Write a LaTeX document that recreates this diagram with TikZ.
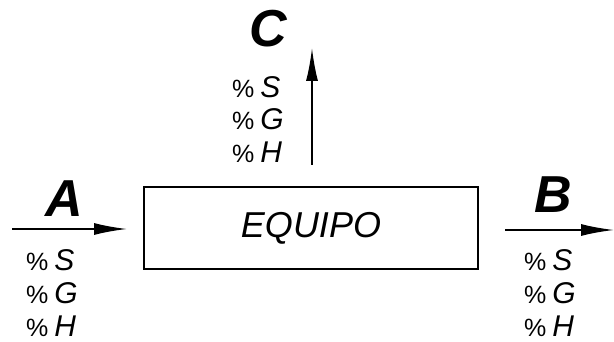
\documentclass[tikz,border=0pt]{standalone}
\usepackage{fontspec}
\setmainfont{Liberation Sans}
\usetikzlibrary{arrows.meta}
\newcommand{\pctrow}[1]{{\fontsize{25}{25}\selectfont\%}\hspace{6pt}{\fontsize{30}{30}\selectfont\itshape #1}}
\tikzset{
  flow/.style={line width=1.8pt, -{Latex[length=33pt,width=12pt]}},
  unit/.style={draw, line width=1.6pt, minimum width=334pt, minimum height=82pt, inner sep=0pt,
    font=\fontsize{36}{36}\selectfont\itshape},
  streamname/.style={anchor=base, inner sep=0pt, font=\fontsize{52}{52}\selectfont\bfseries\itshape},
  comp/.style={anchor=base west, inner sep=0pt},
}
\begin{document}
\begin{tikzpicture}[x=1pt,y=-1pt]
\useasboundingbox (0,0) rectangle (614,342);
\node[unit] (equipo) at (311,228) {EQUIPO};
% stream A
\coordinate (a0) at (12,229);
\coordinate (a1) at (127,229);
\draw[flow] (a0) -- (a1);
\node[streamname] (A) at (64,217) {A};
\node[comp] (aS) at (26,270) {\pctrow{S}};
\node[comp] (aG) at (26,303) {\pctrow{G}};
\node[comp] (aH) at (26,336) {\pctrow{H}};
% stream B
\coordinate (b0) at (505,230);
\coordinate (b1) at (614,230);
\draw[flow] (b0) -- (b1);
\node[streamname] (B) at (553,213) {B};
\node[comp] (bS) at (524,270) {\pctrow{S}};
\node[comp] (bG) at (524,303) {\pctrow{G}};
\node[comp] (bH) at (524,336) {\pctrow{H}};
% stream C
\coordinate (c0) at (312,165);
\coordinate (c1) at (312,48);
\draw[flow] (c0) -- (c1);
\node[streamname] (C) at (268,47) {C};
\node[comp] (cS) at (232,98) {\pctrow{S}};
\node[comp] (cG) at (232,130) {\pctrow{G}};
\node[comp] (cH) at (232,163) {\pctrow{H}};
\end{tikzpicture}
\end{document}
